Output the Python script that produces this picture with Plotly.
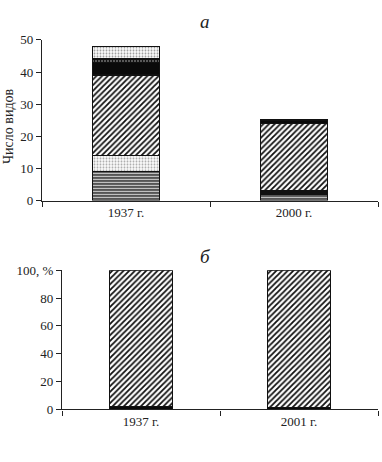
import plotly.graph_objects as go

# ---- data ----
years_a = ["1937 г.", "2000 г."]
years_b = ["1937 г.", "2001 г."]

# panel а : number of species (stacked groups, bottom -> top)
a_dashed = [9, 2]
a_lightdots = [5, 0]
a_thinblack = [0, 1]
a_diagonal = [25, 21]
a_black = [4, 1]
a_vlines = [1, 0]
a_topdots = [4, 0]

# panel б : percent
b_black = [2, 1.5]
b_diagonal = [98, 98.5]

yticks_a = [0, 10, 20, 30, 40, 50]
yticks_b = [0, 20, 40, 60, 80, 100]
yticklabels_b = ["0", "20", "40", "60", "80", "100, %"]

FONT = "Liberation Serif"
W, H = 382, 462

fig = go.Figure()

def pat(shape, fg, bg, size, sol):
    return dict(shape=shape, fgcolor=fg, bgcolor=bg, size=size, solidity=sol, fillmode="replace")

line = dict(color="#111", width=1.5)

styles_a = [
    (a_dashed, dict(color="#555", pattern=pat("-", "#ccc", "#555", 3, 0.35))),
    (a_lightdots, dict(color="#f2f2f2", pattern=pat(".", "#aaa", "#fafafa", 3, 0.3))),
    (a_thinblack, dict(color="#111")),
    (a_diagonal, dict(color="white", pattern=pat("/", "#111", "white", 4, 0.45))),
    (a_black, dict(color="#0a0a0a")),
    (a_vlines, dict(color="#222", pattern=pat("|", "#111", "#888", 3, 0.6))),
    (a_topdots, dict(color="#f2f2f2", pattern=pat(".", "#999", "#fafafa", 3, 0.3))),
]
for vals, m in styles_a:
    m = dict(m)
    m["line"] = line
    fig.add_trace(go.Bar(x=years_a, y=vals, marker=m, width=0.4,
                         xaxis="x", yaxis="y", showlegend=False))

styles_b = [
    (b_black, dict(color="#0a0a0a")),
    (b_diagonal, dict(color="white", pattern=pat("/", "#111", "white", 4, 0.45))),
]
for vals, m in styles_b:
    m = dict(m)
    m["line"] = line
    fig.add_trace(go.Bar(x=years_b, y=vals, marker=m, width=0.4,
                         xaxis="x2", yaxis="y2", showlegend=False))

axis_common = dict(showgrid=False, zeroline=False, showline=True, linecolor="#222",
                   linewidth=1.2, ticks="outside", tickcolor="#222", tickwidth=1.2,
                   tickfont=dict(family=FONT, size=13, color="#222"))

fig.update_layout(
    width=W, height=H, margin=dict(l=0, r=0, t=0, b=0),
    paper_bgcolor="white", plot_bgcolor="white",
    barmode="stack", bargap=0.6,
    xaxis=dict(domain=[42 / W, 378 / W], anchor="y", tickson="boundaries", ticklen=5,
               **axis_common),
    yaxis=dict(domain=[(H - 200) / H, (H - 34) / H], anchor="x", range=[0, 50],
               tickvals=yticks_a, ticklen=5, **axis_common),
    xaxis2=dict(domain=[62 / W, 378 / W], anchor="y2", tickson="boundaries", ticklen=5,
                **axis_common),
    yaxis2=dict(domain=[(H - 416) / H, (H - 272) / H], anchor="x2", range=[0, 100],
                tickvals=yticks_b, ticktext=yticklabels_b, ticklen=5, **axis_common),
    annotations=[
        dict(text="<i>а</i>", x=205 / W, y=(H - 15) / H, xref="paper", yref="paper",
             xanchor="center", yanchor="middle",
             showarrow=False, font=dict(family=FONT, size=19, color="#222")),
        dict(text="<i>б</i>", x=205 / W, y=(H - 258) / H, xref="paper", yref="paper",
             xanchor="center", yanchor="middle",
             showarrow=False, font=dict(family=FONT, size=19, color="#222")),
        dict(text="Число видов", x=8 / W, y=(H - 123) / H, xref="paper", yref="paper",
             xanchor="center", yanchor="middle",
             textangle=-90, showarrow=False, font=dict(family=FONT, size=14, color="#222")),
    ],
)

fig.write_html("out.html")
